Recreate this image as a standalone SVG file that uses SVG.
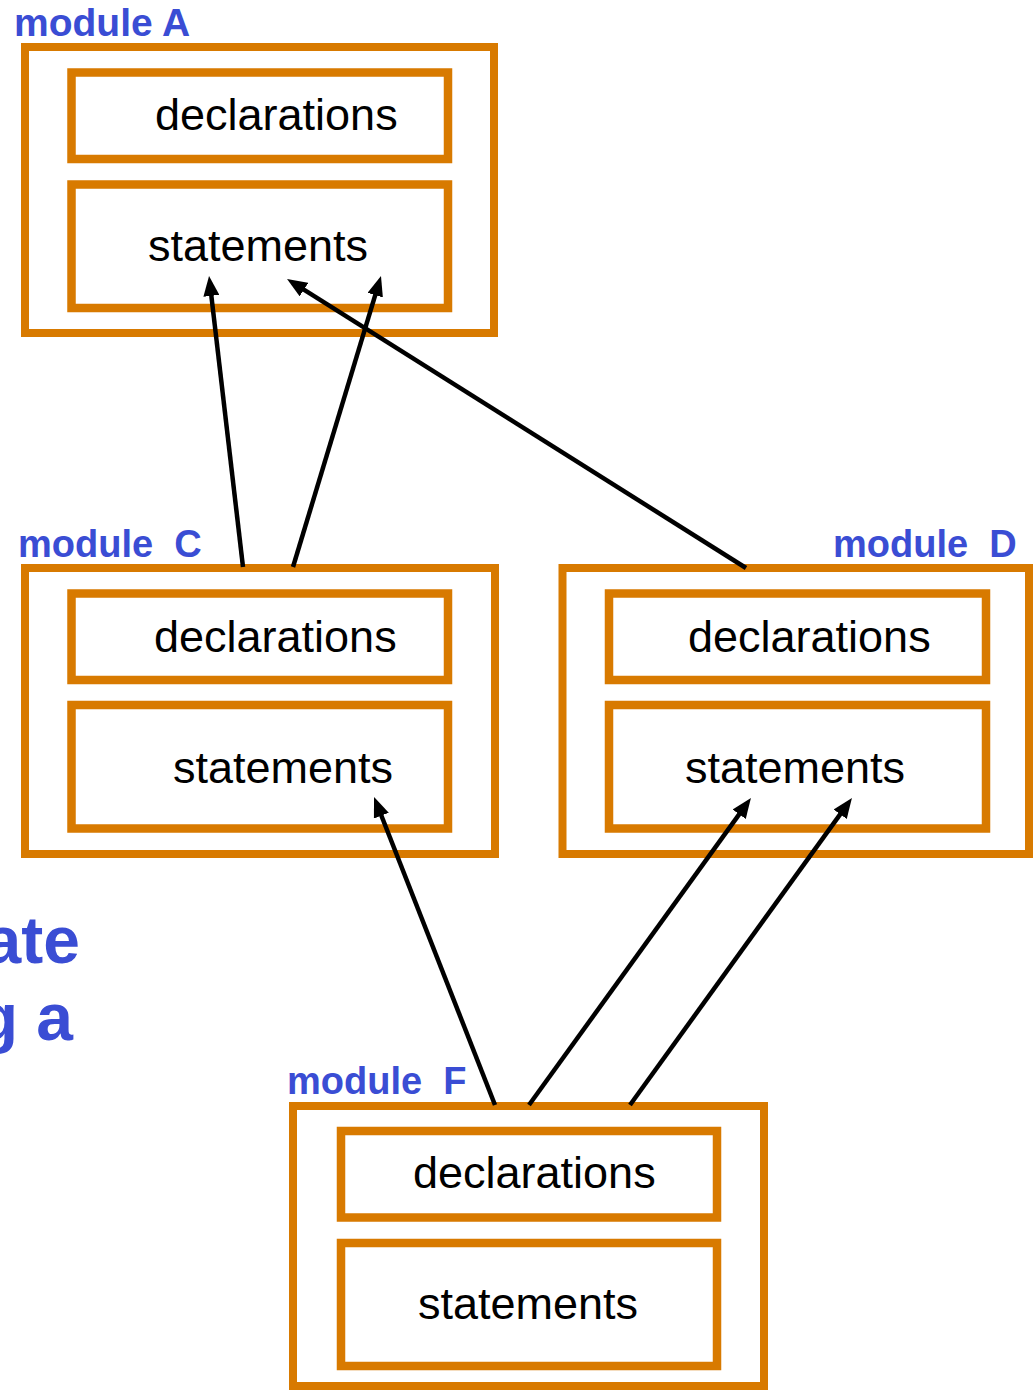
<svg xmlns="http://www.w3.org/2000/svg" width="1033" height="1390" viewBox="0 0 1033 1390">
<style>
.outer{fill:#fff;stroke:#D87A00;stroke-width:8}
.inner{fill:#fff;stroke:#D87A00;stroke-width:8.5}
.lbl{font-family:"Liberation Sans",Arial,sans-serif;font-size:45px;fill:#000}
.mod{font-family:"Liberation Sans",Arial,sans-serif;font-size:38px;font-weight:bold;fill:#3A4DD4;white-space:pre}
.big{font-family:"Liberation Sans",Arial,sans-serif;font-size:66px;font-weight:bold;fill:#3A4DD4}
.conn{stroke:#000;stroke-width:4.5;fill:none;marker-end:url(#ah)}
</style>
<defs>
<marker id="ah" markerUnits="userSpaceOnUse" markerWidth="20" markerHeight="16" refX="10" refY="8" orient="auto">
<path d="M0,0 L20,8 L0,16 z" fill="#000"/>
</marker>
</defs>
<rect width="1033" height="1390" fill="#fff"/>
<g id="bg-text">
<text class="big" x="80" y="963" text-anchor="end">ate</text>
<text class="big" x="73" y="1040" text-anchor="end">g a</text>
</g>
<g id="moduleA">
<text class="mod" x="14" y="36" style="font-size:39px">module A</text>
<rect class="outer" x="25" y="47" width="469" height="286"/>
<rect class="inner" x="71.5" y="72.5" width="376.5" height="86.5"/>
<rect class="inner" x="71.5" y="184.5" width="376.5" height="123.5"/>
<text class="lbl" x="155" y="130">declarations</text>
<text class="lbl" x="148" y="261">statements</text>
</g>
<g id="moduleC">
<text class="mod" x="18" y="557" xml:space="preserve">module  C</text>
<rect class="outer" x="25" y="568" width="470" height="286"/>
<rect class="inner" x="71.5" y="593.5" width="376.5" height="86.5"/>
<rect class="inner" x="71.5" y="705" width="376.5" height="123.5"/>
<text class="lbl" x="154" y="652">declarations</text>
<text class="lbl" x="173" y="783">statements</text>
</g>
<g id="moduleD">
<text class="mod" x="833" y="557" xml:space="preserve">module  D</text>
<rect class="outer" x="562.5" y="568" width="466.5" height="286"/>
<rect class="inner" x="609" y="593.5" width="377" height="86.5"/>
<rect class="inner" x="609" y="705" width="377" height="123.5"/>
<text class="lbl" x="688" y="652">declarations</text>
<text class="lbl" x="685" y="783">statements</text>
</g>
<g id="moduleF">
<text class="mod" x="287" y="1094" xml:space="preserve">module  F</text>
<rect class="outer" x="293" y="1106" width="471" height="280"/>
<rect class="inner" x="341" y="1131" width="376" height="86.5"/>
<rect class="inner" x="341" y="1243" width="376" height="123"/>
<text class="lbl" x="413" y="1188">declarations</text>
<text class="lbl" x="418" y="1319">statements</text>
</g>
<g id="connectors">
<line class="conn" x1="243" y1="567" x2="210.2" y2="285.9"/>
<line class="conn" x1="293" y1="567" x2="378.1" y2="285.6"/>
<line class="conn" x1="746" y1="568" x2="295.5" y2="284.3"/>
<line class="conn" x1="495" y1="1105" x2="377.7" y2="806.3"/>
<line class="conn" x1="529" y1="1105" x2="745.1" y2="806.1"/>
<line class="conn" x1="630" y1="1105" x2="846.1" y2="806.1"/>
</g>
</svg>
